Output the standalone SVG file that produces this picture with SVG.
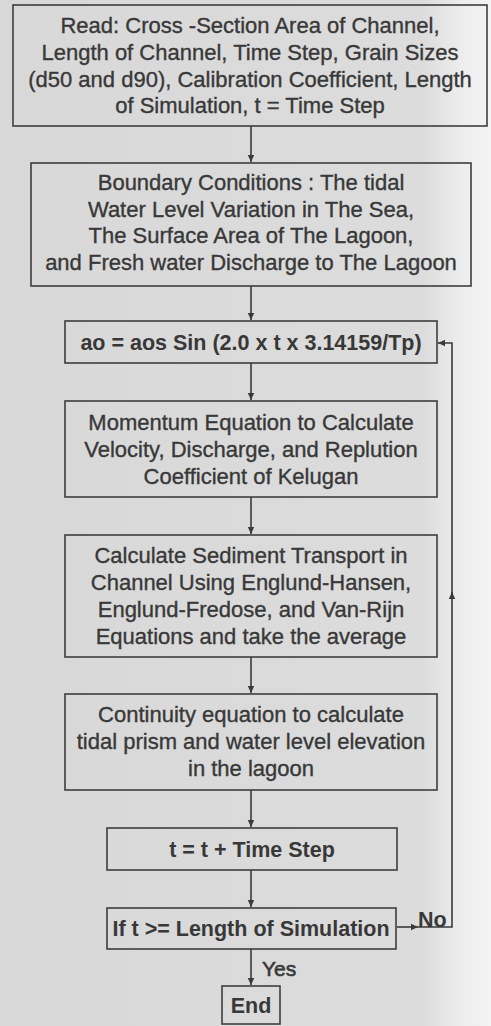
<svg xmlns="http://www.w3.org/2000/svg" width="491" height="1026" viewBox="0 0 491 1026">
<defs>
<linearGradient id="bg" x1="0" y1="0" x2="1" y2="0">
<stop offset="0" stop-color="#d8d8d8"/>
<stop offset="0.86" stop-color="#dcdcdc"/>
<stop offset="0.94" stop-color="#ededed"/>
<stop offset="1" stop-color="#f3f3f3"/>
</linearGradient>
<marker id="ah" markerWidth="8" markerHeight="8" refX="7" refY="4" orient="auto" markerUnits="userSpaceOnUse">
<path d="M0,0.8 L7,4 L0,7.2 Z" fill="#3a3a3a"/>
</marker>
<style>
.box{fill:none;stroke:#3e3e3e;stroke-width:1.6}
.t{font-family:"Liberation Sans",Arial,sans-serif;font-size:22px;fill:#383838;stroke:#383838;stroke-width:0.35;text-anchor:middle}
.b{font-weight:bold;font-size:21.5px;stroke-width:0}
.c{fill:none;stroke:#3a3a3a;stroke-width:1.6}
</style>
</defs>
<rect width="491" height="1026" fill="url(#bg)"/>
<g id="connectors">
<line class="c" x1="251" y1="126" x2="251" y2="162" marker-end="url(#ah)"/>
<line class="c" x1="251" y1="286" x2="251" y2="320" marker-end="url(#ah)"/>
<line class="c" x1="251" y1="363" x2="251" y2="400" marker-end="url(#ah)"/>
<line class="c" x1="251" y1="497" x2="251" y2="534" marker-end="url(#ah)"/>
<line class="c" x1="251" y1="657" x2="251" y2="693" marker-end="url(#ah)"/>
<line class="c" x1="251" y1="790" x2="251" y2="827" marker-end="url(#ah)"/>
<line class="c" x1="251" y1="870" x2="251" y2="907" marker-end="url(#ah)"/>
<line class="c" x1="251" y1="949" x2="251" y2="985" marker-end="url(#ah)"/>
<line class="c" x1="397" y1="927" x2="418" y2="927" marker-end="url(#ah)"/>
<polyline class="c" points="418,927 452,927 452,592" marker-end="url(#ah)"/>
<polyline class="c" points="452,595 452,343 438,343" marker-end="url(#ah)"/>
<text class="t" x="262" y="976" style="text-anchor:start;font-size:21px;stroke-width:0.6">Yes</text>
<text class="t b" x="418" y="927" style="text-anchor:start">No</text>
</g>
<g id="read">
<rect class="box" x="13" y="5" width="474" height="121"/>
<text class="t" x="250" y="33">Read: Cross -Section Area of Channel,</text>
<text class="t" x="250" y="60">Length of Channel, Time Step, Grain Sizes</text>
<text class="t" x="250" y="87">(d50 and d90), Calibration Coefficient, Length</text>
<text class="t" x="250" y="113">of Simulation, t = Time Step</text>
</g>
<g id="boundary">
<rect class="box" x="31" y="163" width="440" height="123"/>
<text class="t" x="251" y="190">Boundary Conditions : The tidal</text>
<text class="t" x="251" y="217">Water Level Variation in The Sea,</text>
<text class="t" x="251" y="243">The Surface Area of The Lagoon,</text>
<text class="t" x="251" y="270">and Fresh water Discharge to The Lagoon</text>
</g>
<g id="ao">
<rect class="box" x="65" y="321" width="372" height="42"/>
<text class="t b" x="251" y="350">ao = aos Sin (2.0 x t x 3.14159/Tp)</text>
</g>
<g id="momentum">
<rect class="box" x="65" y="401" width="372" height="96"/>
<text class="t" x="251" y="430">Momentum Equation to Calculate</text>
<text class="t" x="251" y="457">Velocity, Discharge, and Replution</text>
<text class="t" x="251" y="484">Coefficient of Kelugan</text>
</g>
<g id="sediment">
<rect class="box" x="65" y="535" width="372" height="122"/>
<text class="t" x="251" y="563">Calculate Sediment Transport in</text>
<text class="t" x="251" y="590">Channel Using Englund-Hansen,</text>
<text class="t" x="251" y="617">Englund-Fredose, and Van-Rijn</text>
<text class="t" x="251" y="644">Equations and take the average</text>
</g>
<g id="continuity">
<rect class="box" x="65" y="694" width="372" height="96"/>
<text class="t" x="251" y="722">Continuity equation to calculate</text>
<text class="t" x="251" y="749">tidal prism and water level elevation</text>
<text class="t" x="251" y="776">in the lagoon</text>
</g>
<g id="timestep">
<rect class="box" x="107" y="828" width="290" height="42"/>
<text class="t b" x="252" y="857">t = t + Time Step</text>
</g>
<g id="check">
<rect class="box" x="107" y="908" width="289" height="41"/>
<text class="t b" x="251" y="936">If t &gt;= Length of Simulation</text>
</g>
<g id="end">
<rect class="box" x="222" y="986" width="58" height="38"/>
<text class="t b" x="251" y="1013">End</text>
</g>
</svg>
